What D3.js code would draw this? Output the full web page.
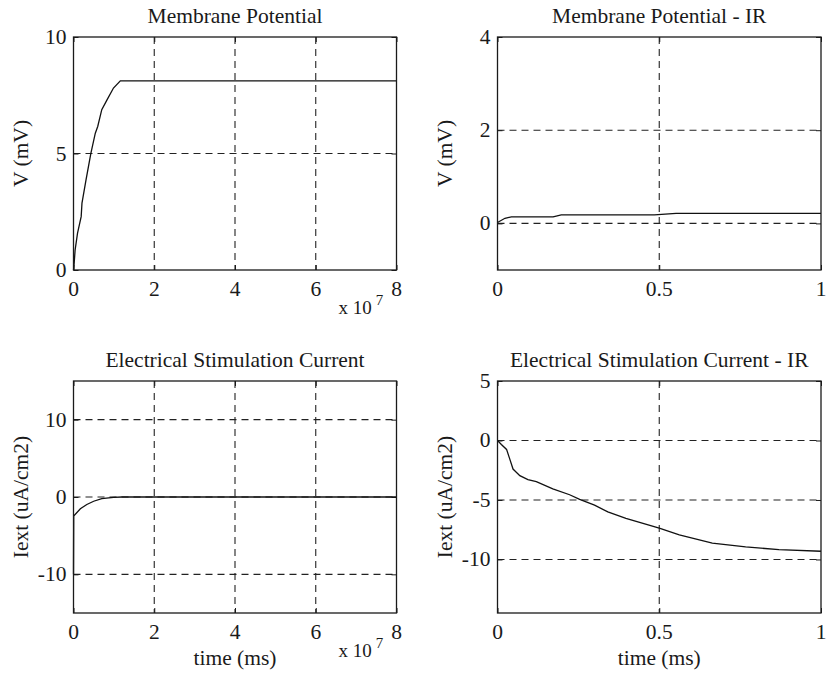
<!DOCTYPE html>
<html>
<head>
<meta charset="utf-8">
<script src="https://cdn.jsdelivr.net/npm/d3@7"></script>
<style>
  body { margin: 0; background: #fff; }
  svg { display: block; font-family: "Liberation Serif", "Times New Roman", serif; }
</style>
</head>
<body>
<div id="chart"></div>
<script>
// Membrane potential (time in units of 1e7 ms)
const vTime = [0, 0.017, 0.04, 0.1, 0.19, 0.21, 0.31, 0.43, 0.54, 0.6, 0.7, 0.83, 0.99, 1.16, 8];
const vValues = [0, 0.3, 0.86, 1.58, 2.29, 2.87, 3.87, 5.01, 5.87, 6.16, 6.88, 7.3, 7.81, 8.12, 8.12];

// Membrane potential - IR
const vIrTime = [0, 0.023, 0.043, 0.172, 0.197, 0.485, 0.552, 1];
const vIrValues = [0.02, 0.11, 0.14, 0.14, 0.185, 0.185, 0.215, 0.215];

// Electrical stimulation current
const iTime = [0, 0.005, 0.17, 0.33, 0.5, 0.7, 0.99, 1.2, 8];
const iValues = [-10, -2.45, -1.52, -0.97, -0.55, -0.21, -0.05, 0, 0];

// Electrical stimulation current - IR
const iIrTime = [0, 0.012, 0.028, 0.038, 0.048, 0.069, 0.094, 0.12, 0.171, 0.223, 0.254, 0.3, 0.341, 0.397, 0.5, 0.562, 0.664, 0.767, 0.87, 1];
const iIrValues = [0, -0.33, -0.75, -1.57, -2.4, -2.96, -3.29, -3.45, -4.06, -4.56, -4.95, -5.44, -6.0, -6.55, -7.37, -7.93, -8.62, -8.95, -9.17, -9.31];

// Tick labels
const longTimeTicks = [0, 2, 4, 6, 8];
const shortTimeTicks = [0, 0.5, 1];
const vTicks = [0, 5, 10];
const vIrTicks = [0, 2, 4];
const iTicks = [-10, 0, 10];
const iIrTicks = [-10, -5, 0, 5];

const width = 826;
const height = 675;

const svg = d3.select('#chart')
    .append('svg')
    .attr('width', width)
    .attr('height', height);

const fontSize = 21.5;
const ink = '#1a1a1a';

const panels = [
    {
        title: 'Membrane Potential', ylabel: 'V (mV)',
        x: [73.5, 396.5], y: [270, 37],
        xDomain: [0, 8], yDomain: [0, 10],
        xTicks: longTimeTicks, yTicks: vTicks,
        times: vTime, values: vValues, exponent: true, xlabel: null
    },
    {
        title: 'Membrane Potential - IR', ylabel: 'V (mV)',
        x: [497.5, 821], y: [270, 37],
        xDomain: [0, 1], yDomain: [-1, 4],
        xTicks: shortTimeTicks, yTicks: vIrTicks,
        times: vIrTime, values: vIrValues, exponent: false, xlabel: null
    },
    {
        title: 'Electrical Stimulation Current', ylabel: 'Iext (uA/cm2)',
        x: [73.5, 396.5], y: [613, 381],
        xDomain: [0, 8], yDomain: [-15, 15],
        xTicks: longTimeTicks, yTicks: iTicks,
        times: iTime, values: iValues, exponent: true, xlabel: 'time (ms)'
    },
    {
        title: 'Electrical Stimulation Current - IR', ylabel: 'Iext (uA/cm2)',
        x: [497.5, 821], y: [613, 381],
        xDomain: [0, 1], yDomain: [-14.5, 5],
        xTicks: shortTimeTicks, yTicks: iIrTicks,
        times: iIrTime, values: iIrValues, exponent: false, xlabel: 'time (ms)'
    }
];

panels.forEach(p => drawPanel(p));

function drawPanel(p) {
    const x = d3.scaleLinear().domain(p.xDomain).range(p.x);
    const y = d3.scaleLinear().domain(p.yDomain).range(p.y);
    const g = svg.append('g');

    const [x0, x1] = p.x;
    const [y0, y1] = p.y; // y0 bottom, y1 top

    // Grid lines (skip those on the box edges)
    const eps = 0.5;
    g.selectAll('.vgrid')
        .data(p.xTicks.filter(t => Math.abs(x(t) - x0) > eps && Math.abs(x(t) - x1) > eps))
        .enter()
        .append('line')
        .attr('x1', d => x(d)).attr('x2', d => x(d))
        .attr('y1', y1).attr('y2', y0)
        .style('stroke', '#222')
        .style('stroke-width', 1.1)
        .style('stroke-dasharray', '7,5');

    g.selectAll('.hgrid')
        .data(p.yTicks.filter(t => Math.abs(y(t) - y0) > eps && Math.abs(y(t) - y1) > eps))
        .enter()
        .append('line')
        .attr('x1', x0).attr('x2', x1)
        .attr('y1', d => y(d)).attr('y2', d => y(d))
        .style('stroke', '#222')
        .style('stroke-width', 1.1)
        .style('stroke-dasharray', '7,5');

    // Inner ticks on all four sides
    const tickLen = 5;
    g.append('g')
        .attr('transform', `translate(0,${y0})`)
        .call(d3.axisTop(x).tickValues(p.xTicks).tickSize(tickLen).tickFormat(''))
        .call(a => a.select('.domain').remove());
    g.append('g')
        .attr('transform', `translate(0,${y1})`)
        .call(d3.axisBottom(x).tickValues(p.xTicks).tickSize(tickLen).tickFormat(''))
        .call(a => a.select('.domain').remove());
    g.append('g')
        .attr('transform', `translate(${x0},0)`)
        .call(d3.axisRight(y).tickValues(p.yTicks).tickSize(tickLen).tickFormat(''))
        .call(a => a.select('.domain').remove());
    g.append('g')
        .attr('transform', `translate(${x1},0)`)
        .call(d3.axisLeft(y).tickValues(p.yTicks).tickSize(tickLen).tickFormat(''))
        .call(a => a.select('.domain').remove());
    g.selectAll('.tick line').style('stroke', ink);

    // Curve
    const points = p.times.map((t, i) => [t, p.values[i]]);
    g.append('path')
        .datum(points)
        .attr('d', d3.line().x(d => x(d[0])).y(d => y(d[1])))
        .style('fill', 'none')
        .style('stroke', '#111')
        .style('stroke-width', 1.3);

    // Box
    g.append('rect')
        .attr('x', x0).attr('y', y1)
        .attr('width', x1 - x0).attr('height', y0 - y1)
        .style('fill', 'none')
        .style('stroke', ink)
        .style('stroke-width', 1.3);

    // Tick labels
    g.selectAll('.xlab')
        .data(p.xTicks)
        .enter()
        .append('text')
        .attr('x', d => x(d))
        .attr('y', y0 + 26)
        .style('text-anchor', 'middle')
        .style('font-size', fontSize + 'px')
        .style('fill', ink)
        .text(d => d);

    g.selectAll('.ylab')
        .data(p.yTicks)
        .enter()
        .append('text')
        .attr('x', x0 - 7)
        .attr('y', d => y(d) + 7)
        .style('text-anchor', 'end')
        .style('font-size', fontSize + 'px')
        .style('fill', ink)
        .text(d => d);

    // Title
    g.append('text')
        .attr('x', (x0 + x1) / 2)
        .attr('y', y1 - 14)
        .style('text-anchor', 'middle')
        .style('font-size', fontSize + 'px')
        .style('fill', ink)
        .text(p.title);

    // Y label
    g.append('text')
        .attr('transform', `translate(${x0 - 46},${(y0 + y1) / 2}) rotate(-90)`)
        .style('text-anchor', 'middle')
        .style('font-size', fontSize + 'px')
        .style('fill', ink)
        .text(p.ylabel);

    // X label
    if (p.xlabel) {
        g.append('text')
            .attr('x', (x0 + x1) / 2)
            .attr('y', y0 + 52)
            .style('text-anchor', 'middle')
            .style('font-size', fontSize + 'px')
            .style('fill', ink)
            .text(p.xlabel);
    }

    // Exponent label "x 10^7"
    if (p.exponent) {
        const ex = g.append('text')
            .attr('x', x1 - 58)
            .attr('y', y0 + 44)
            .style('font-size', '19px')
            .style('fill', ink);
        ex.append('tspan').text('x 10');
        ex.append('tspan')
            .attr('dx', 4)
            .attr('dy', -9)
            .style('font-size', '15px')
            .text('7');
    }
}
</script>
</body>
</html>
